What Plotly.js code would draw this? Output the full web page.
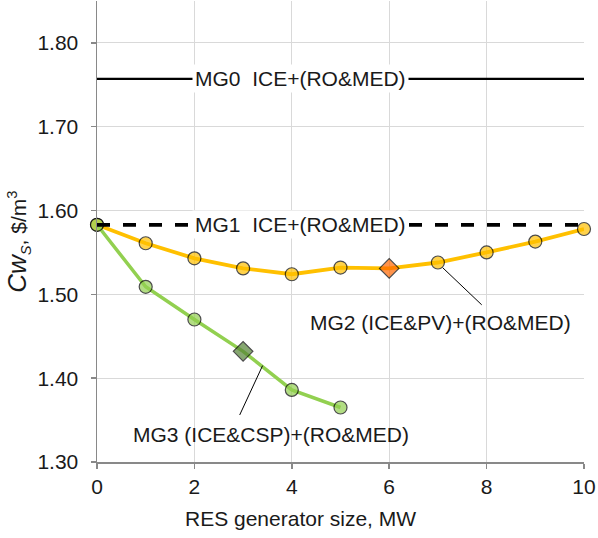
<!DOCTYPE html>
<html><head><meta charset="utf-8">
<script src="https://cdn.plot.ly/plotly-3.0.1.min.js"></script>
<style>html,body{margin:0;padding:0;background:#fff}#chart{width:598px;height:538px}</style>
</head><body><div id="chart"></div>
<script>
// RES generator size, MW
const sizeMW = [0, 1, 2, 3, 4, 5, 6, 7, 8, 9, 10];
const sizeMG3 = [0, 1, 2, 3, 4, 5];
const baseX = [0, 10];
// Cw_S, $/m3
const mg0Cost = [1.757, 1.757];
const mg1Cost = [1.583, 1.583];
const mg2Cost = [1.583, 1.561, 1.543, 1.531, 1.524, 1.532, 1.531, 1.538, 1.550, 1.563, 1.578];
const mg3Cost = [1.583, 1.509, 1.470, 1.432, 1.386, 1.365];
// optimum points (drawn as diamonds)
const mg2Best = 6;
const mg3Best = 3;
const yTicks = [1.30, 1.40, 1.50, 1.60, 1.70, 1.80];
const xTicks = [0, 2, 4, 6, 8, 10];

const FONT = 'Liberation Sans, Arial, sans-serif';
const TXT = '#1a1a1a';
const FS = 21;

const mg2Sym = sizeMW.map(x => x === mg2Best ? 'diamond' : 'circle');
const mg2Col = sizeMW.map(x => x === mg2Best ? '#FF6600' : '#FFC000');
const mg2Size = sizeMW.map(x => x === mg2Best ? 15 : 13);
const mg3Sym = sizeMG3.map(x => x === mg3Best ? 'diamond' : 'circle');
const mg3Col = sizeMG3.map(x => x === mg3Best ? '#548235' : '#92D050');
const mg3Size = sizeMG3.map(x => x === mg3Best ? 15 : 13);

const traces = [
  {x: baseX, y: mg0Cost, mode: 'lines', line: {color: '#000', width: 2.3}, name: 'MG0', cliponaxis: false},
  {x: sizeMW, y: mg2Cost, mode: 'lines+markers', name: 'MG2', cliponaxis: false,
   line: {color: '#FFC000', width: 3.8},
   marker: {symbol: mg2Sym, color: mg2Col, size: mg2Size, line: {color: '#000', width: 1.2}}},
  {x: sizeMG3, y: mg3Cost, mode: 'lines+markers', name: 'MG3', cliponaxis: false,
   line: {color: '#92D050', width: 3.5},
   marker: {symbol: mg3Sym, color: mg3Col, size: mg3Size, line: {color: '#000', width: 1.2}}},
  {x: baseX, y: mg1Cost, mode: 'lines', name: 'MG1', cliponaxis: false,
   line: {color: '#000', width: 3.8, dash: '13px,13px'}}
];

const layout = {
  width: 598, height: 538,
  margin: {l: 97, r: 14, t: 1, b: 76},
  paper_bgcolor: '#fff', plot_bgcolor: '#fff',
  showlegend: false,
  font: {family: FONT, size: FS, color: TXT},
  xaxis: {
    range: [0, 10], tickvals: xTicks, ticktext: xTicks.map(String),
    showgrid: true, gridcolor: '#d9d9d9', gridwidth: 1,
    zeroline: false, showline: true, linecolor: '#898989', linewidth: 1.5,
    ticks: 'outside', ticklen: 5, tickcolor: '#898989', tickwidth: 1.5,
    ticklabelstandoff: 0,
    tickfont: {family: FONT, size: FS, color: TXT},
    automargin: false
  },
  yaxis: {
    range: [1.30, 1.85], tickvals: yTicks, tickformat: '.2f',
    showgrid: true, gridcolor: '#d9d9d9', gridwidth: 1,
    zeroline: false, showline: true, linecolor: '#898989', linewidth: 1.5,
    ticks: 'outside', ticklen: 5, tickcolor: '#898989', tickwidth: 1.5,
    ticklabelstandoff: 8,
    tickfont: {family: FONT, size: FS, color: TXT},
    automargin: false
  },
  annotations: [
    {xref: 'paper', yref: 'paper', x: 0.417, y: -0.1236, xanchor: 'center', yanchor: 'middle',
     text: 'RES generator size, MW', showarrow: false, font: {family: FONT, size: FS, color: TXT}},
    {xref: 'paper', yref: 'y', x: 0, xshift: -79, y: 1.5675, yshift: -4, xanchor: 'center', yanchor: 'middle', textangle: -90,
     text: '<i><span style="font-size:26px">Cw</span></i><sub><i>S</i></sub>, $/m<sup>3</sup>',
     showarrow: false, font: {family: FONT, size: 21, color: TXT}},
    {x: 4.18, y: mg0Cost[0], xref: 'x', yref: 'y', text: 'MG0\u00a0\u00a0ICE+(RO&MED)', showarrow: false,
     bgcolor: '#fff', borderpad: 2, font: {family: FONT, size: FS, color: TXT}},
    {x: 4.18, y: mg1Cost[0], xref: 'x', yref: 'y', text: 'MG1\u00a0\u00a0ICE+(RO&MED)', showarrow: false,
     bgcolor: '#fff', borderpad: 2, font: {family: FONT, size: FS, color: TXT}},
    {x: 7.06, y: 1.466, xref: 'x', yref: 'y', text: 'MG2 (ICE&PV)+(RO&MED)', showarrow: false,
     font: {family: FONT, size: FS, color: TXT}},
    {x: 3.57, y: 1.3334, xref: 'x', yref: 'y', text: 'MG3 (ICE&CSP)+(RO&MED)', showarrow: false,
     font: {family: FONT, size: FS, color: TXT}}
  ],
  shapes: [
    {type: 'line', xref: 'x', yref: 'y', x0: 7.10, y0: 1.5317, x1: 7.90, y1: 1.4875, line: {color: '#000', width: 1}},
    {type: 'line', xref: 'x', yref: 'y', x0: 3.40, y0: 1.415, x1: 2.93, y1: 1.3561, line: {color: '#000', width: 1}}
  ]
};

Plotly.newPlot('chart', traces, layout, {displayModeBar: false, staticPlot: true});
</script>
</body></html>
